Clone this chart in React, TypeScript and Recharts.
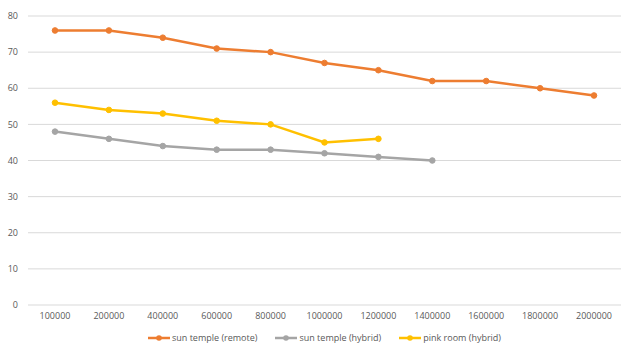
import { LineChart, Line, XAxis, YAxis, CartesianGrid, Legend } from 'recharts'

const categories = ['100000', '200000', '400000', '600000', '800000', '1000000', '1200000', '1400000', '1600000', '1800000', '2000000']
const sunTempleRemote = [76, 76, 74, 71, 70, 67, 65, 62, 62, 60, 58]
const sunTempleHybrid = [48, 46, 44, 43, 43, 42, 41, 40]
const pinkRoomHybrid = [56, 54, 53, 51, 50, 45, 46]
const yTicks = [0, 10, 20, 30, 40, 50, 60, 70, 80]

const series = [
  { key: 'remote', name: 'sun temple (remote)', color: '#ED7D31' },
  { key: 'hybrid', name: 'sun temple (hybrid)', color: '#A5A5A5' },
  { key: 'pink', name: 'pink room (hybrid)', color: '#FFC000' },
]

const data = categories.map((c, i) => ({
  x: c,
  remote: sunTempleRemote[i],
  hybrid: sunTempleHybrid[i],
  pink: pinkRoomHybrid[i],
}))

const font = '"Open Sans", sans-serif'

function LegendContent() {
  return (
    <div style={{ display: 'flex', justifyContent: 'center', paddingLeft: 28, fontFamily: font, fontSize: 9, color: '#595959' }}>
      {series.map(s => (
        <div key={s.key} style={{ display: 'flex', alignItems: 'center', margin: '0 9px' }}>
          <svg width={22} height={8} style={{ marginRight: 2 }}>
            <line x1={0} y1={4} x2={22} y2={4} stroke={s.color} strokeWidth={2.5} />
            <circle cx={11} cy={4} r={2.8} fill={s.color} />
          </svg>
          <span>{s.name}</span>
        </div>
      ))}
    </div>
  )
}

export default function App() {
  return (
    <div style={{ position: 'absolute', left: 0, top: 0, width: 621, height: 348, background: '#fff' }}>
      <LineChart width={621} height={348} data={data} margin={{ top: 16, right: 0, bottom: 0, left: 0 }}>
        <CartesianGrid vertical={false} stroke="#D9D9D9" />
        <XAxis dataKey="x" axisLine={false} tickLine={false} interval={0} height={26} padding={{ left: 27, right: 27 }}
          tick={{ fontSize: 9, fill: '#595959', fontFamily: font }} />
        <YAxis domain={[0, 80]} ticks={yTicks} width={28} axisLine={false} tickLine={false} tickMargin={4}
          tick={{ fontSize: 9, fill: '#595959', fontFamily: font }} />
        <Legend verticalAlign="bottom" height={17} content={<LegendContent />} />
        {series.map(s => (
          <Line key={s.key} dataKey={s.key} name={s.name} stroke={s.color} strokeWidth={2.5}
            dot={{ r: 2.8, fill: s.color, stroke: s.color, strokeWidth: 1 }} isAnimationActive={false} />
        ))}
      </LineChart>
    </div>
  )
}
